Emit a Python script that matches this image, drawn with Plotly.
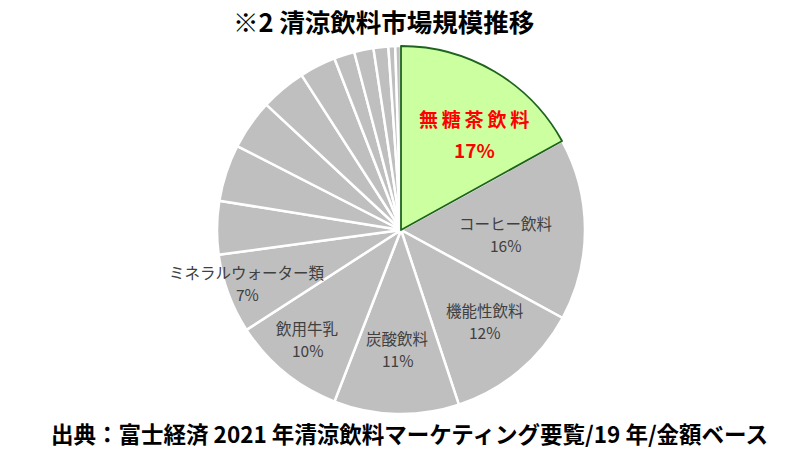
import plotly.graph_objects as go

# market share by category (clockwise from 12 o'clock), 2019, value basis
categories = ["無糖茶飲料", "コーヒー飲料", "機能性飲料", "炭酸飲料", "飲用牛乳", "ミネラルウォーター類",
              "その他1", "その他2", "その他3", "その他4", "その他5", "その他6", "その他7", "その他8", "その他9", "その他10"]
shares = [17, 16, 12, 11, 10, 7, 4.7, 5.0, 4.4, 4.0, 3.2, 1.8, 1.7, 1.3, 0.6, 0.5]
pct_labels = ["17%", "16%", "12%", "11%", "10%", "7%"]

# label placement in pixels (center x, name line y, percent line y)
label_px = [(474, 118, 150), (505, 223, 245), (485, 310, 332), (397, 338, 360), (307, 328, 350), (247, 272, 294)]

W, H = 800, 450
cx, cy, r = 401, 230, 184

gray = "#BFBFBF"
green = "#CCFFA0"
dark_green = "#1E641E"

n = len(shares)
colors = [green] + [gray] * (n - 1)

dom_x = [(cx - r) / W, (cx + r) / W]
dom_y = [1 - (cy + r) / H, 1 - (cy - r) / H]

fig = go.Figure()
fig.add_trace(go.Pie(
    labels=categories, values=shares, sort=False, direction="clockwise", rotation=0,
    marker=dict(colors=colors, line=dict(color="white", width=2.5)),
    textinfo="none", hoverinfo="label+percent", showlegend=False,
    domain=dict(x=dom_x, y=dom_y),
))
# overlay so the green slice keeps its dark outline on both edges
fig.add_trace(go.Pie(
    labels=categories, values=shares, sort=False, direction="clockwise", rotation=0,
    marker=dict(colors=[green] + ["rgba(0,0,0,0)"] * (n - 1),
                line=dict(color=[dark_green] + ["rgba(0,0,0,0)"] * (n - 1), width=1.8)),
    textinfo="none", hoverinfo="skip", showlegend=False,
    domain=dict(x=dom_x, y=dom_y),
))

annotations = []
for i, (px, py1, py2) in enumerate(label_px):
    if i == 0:
        f = dict(family="Noto Sans CJK JP", size=19, color="#FF0000")
        name = "<b>" + "\u2009".join(categories[i]) + "</b>"
        pct = "<b>" + pct_labels[i] + "</b>"
    else:
        f = dict(family="Noto Sans CJK JP", size=15.5, color="#404040")
        name = categories[i]
        pct = pct_labels[i]
    annotations.append(dict(x=px / W, y=1 - py1 / H, xref="paper", yref="paper", text=name,
                            showarrow=False, font=f, xanchor="center", yanchor="middle"))
    annotations.append(dict(x=px / W, y=1 - py2 / H, xref="paper", yref="paper", text=pct,
                            showarrow=False, font=f, xanchor="center", yanchor="middle"))

annotations.append(dict(x=383 / W, y=1 - 21 / H, xref="paper", yref="paper",
                        text="<b>※2 清涼飲料市場規模推移</b>", showarrow=False,
                        font=dict(family="Noto Sans CJK JP", size=25.5, color="black"),
                        xanchor="center", yanchor="middle"))
annotations.append(dict(x=410 / W, y=1 - 433 / H, xref="paper", yref="paper",
                        text="<b>出典：富士経済 2021 年清涼飲料マーケティング要覧/19 年/金額ベース</b>",
                        showarrow=False,
                        font=dict(family="Noto Sans CJK JP", size=22.5, color="black"),
                        xanchor="center", yanchor="middle"))

fig.update_layout(
    width=W, height=H,
    margin=dict(l=0, r=0, t=0, b=0),
    paper_bgcolor="white", plot_bgcolor="white",
    annotations=annotations,
)

fig.write_html("out.html", config={"displayModeBar": False},
               post_script="document.body.style.margin='0';")
